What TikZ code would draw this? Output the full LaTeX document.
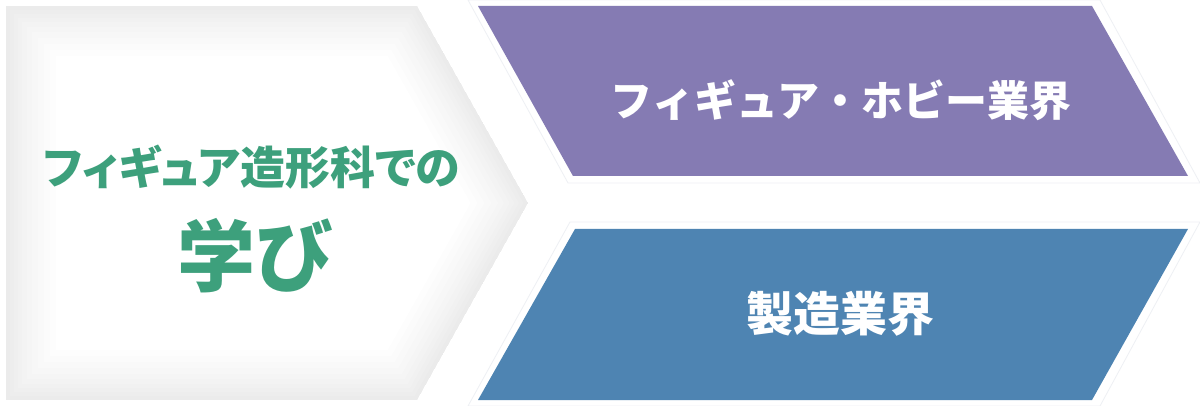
\documentclass[tikz,border=0pt]{standalone}
\usepackage{fontspec}
\newfontfamily\cjk{Noto Sans CJK JP}[RawFeature=+palt]
\newfontfamily\cjkfw{Noto Sans CJK JP}
\definecolor{purp}{HTML}{857BB3}
\definecolor{blu}{HTML}{4E84B2}
\definecolor{grn}{HTML}{3DA07C}
\definecolor{rim}{HTML}{EEF0F4}
\tikzset{
  lbl/.style={font=\cjk\bfseries, inner sep=0pt},
  rimline/.style={draw=rim, line width=0.8pt, fill=white},
}
\begin{document}
\begin{tikzpicture}[x=1pt,y=-1pt]
\useasboundingbox (0,0) rectangle (1200,406);
\fill[white] (0,0) rectangle (1200,406);
% left chevron with soft inner shading
\coordinate (c1) at (6,6);
\coordinate (c2) at (417,6);
\coordinate (c3) at (528,203);
\coordinate (c4) at (417,400);
\coordinate (c5) at (6,400);
\begin{scope}
  \clip (c1) -- (c2) -- (c3) -- (c4) -- (c5) -- cycle;
  \fill[white] (c1) -- (c2) -- (c3) -- (c4) -- (c5) -- cycle;
  \foreach \w in {100,88,76,64,52,42,32,24,16,8}{
    \draw[black, opacity=0.008, line width=\w pt, line join=miter]
      (c1) -- (c2) -- (c3) -- (c4) -- (c5) -- cycle;
  }
\end{scope}
% purple parallelogram
\draw[rimline] (468,0) -- (1100,0) -- (1200,183) -- (568,183) -- cycle;
\fill[purp] (478,6) -- (1092,6) -- (1188,176) -- (573,176) -- cycle;
% blue parallelogram
\draw[rimline] (570,222) -- (1200,222) -- (1100,406) -- (468,406) -- cycle;
\fill[blu] (575,229) -- (1188,229) -- (1092,400) -- (478,400) -- cycle;
% texts
\node[lbl, text=grn, font=\cjk\bfseries\fontsize{45}{45}\selectfont] (t1) at (252,167) {フィギュア造形科での};
\node[lbl, text=grn, font=\cjk\bfseries\fontsize{78}{78}\selectfont] (t2) at (254,256) {学び};
\node[lbl, text=white, font=\cjkfw\bfseries\fontsize{42}{42}\selectfont] (t3) at (841,100) {フィギュア・ホビー業界};
\node[lbl, text=white, font=\cjkfw\bfseries\fontsize{47}{47}\selectfont] (t4) at (840,314) {製造業界};
\end{tikzpicture}
\end{document}
